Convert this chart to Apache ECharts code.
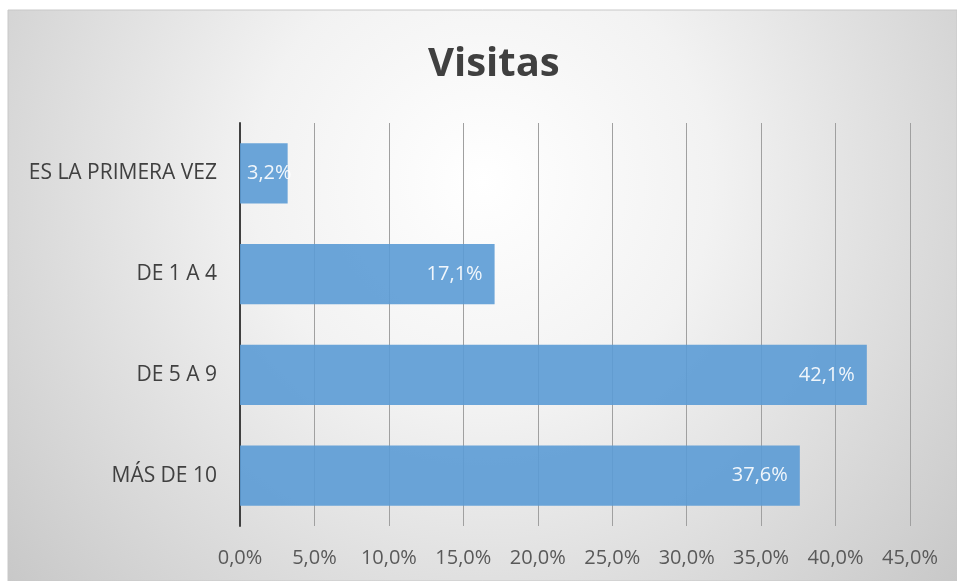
<!DOCTYPE html>
<html>
<head>
<meta charset="utf-8">
<script src="https://cdn.jsdelivr.net/npm/echarts@6/dist/echarts.min.js"></script>
<style>
html,body{margin:0;padding:0;background:#fff;}
#chart{width:957px;height:581px;}
</style>
</head>
<body>
<div id="chart"></div>
<script>
const titleText = 'Visitas';
const categories = ['ES LA PRIMERA VEZ', 'DE 1 A 4', 'DE 5 A 9', 'MÁS DE 10'];
const values = [3.2, 17.1, 42.1, 37.6];
const axisMin = 0, axisMax = 45, axisStep = 5;

const fmt = v => v.toFixed(1).replace('.', ',') + '%';
const font = '"Open Sans", "Noto Sans", sans-serif';

const chart = echarts.init(document.getElementById('chart'), null, {renderer: 'canvas'});
chart.setOption({
  backgroundColor: '#ffffff',
  animation: false,
  graphic: [{
    type: 'rect', z: -10, silent: true,
    shape: {x: 8, y: 10, width: 949, height: 571},
    style: {
      fill: {
        type: 'radial', x: 0.5, y: 0.3, r: 1.15,
        colorStops: [
          {offset: 0, color: '#ffffff'},
          {offset: 0.35, color: '#f2f2f2'},
          {offset: 1, color: '#c4c4c4'}
        ]
      },
      stroke: '#c8c8c8', lineWidth: 1
    }
  }],
  title: {
    text: titleText, left: 423, top: 40,
    textStyle: {fontFamily: font, fontSize: 40, fontWeight: 'bold', color: '#404040'}
  },
  grid: {left: 240, right: 47, top: 123, bottom: 55, containLabel: false},
  xAxis: {
    type: 'value', min: axisMin, max: axisMax, interval: axisStep,
    axisLine: {show: false},
    axisTick: {show: false},
    splitLine: {show: true, lineStyle: {color: '#a0a0a0', width: 1}},
    axisLabel: {formatter: fmt, fontFamily: font, fontSize: 20, color: '#595959', margin: 22}
  },
  yAxis: {
    type: 'category', data: categories, inverse: true,
    axisLine: {show: true, lineStyle: {color: '#404040', width: 2}},
    axisTick: {show: false},
    axisLabel: {fontFamily: font, fontSize: 21, color: '#404040', margin: 23}
  },
  series: [{
    type: 'bar',
    data: values.map((v, i) => i === 0 ? {value: v, label: {position: 'insideLeft', distance: 7}} : v),
    barCategoryGap: '40%',
    itemStyle: {color: '#5b9bd5', opacity: 0.9},
    label: {
      show: true, position: 'insideRight', distance: 12,
      formatter: p => fmt(p.value),
      fontFamily: font, fontSize: 20, color: '#ffffff'
    }
  }]
});
</script>
</body>
</html>
